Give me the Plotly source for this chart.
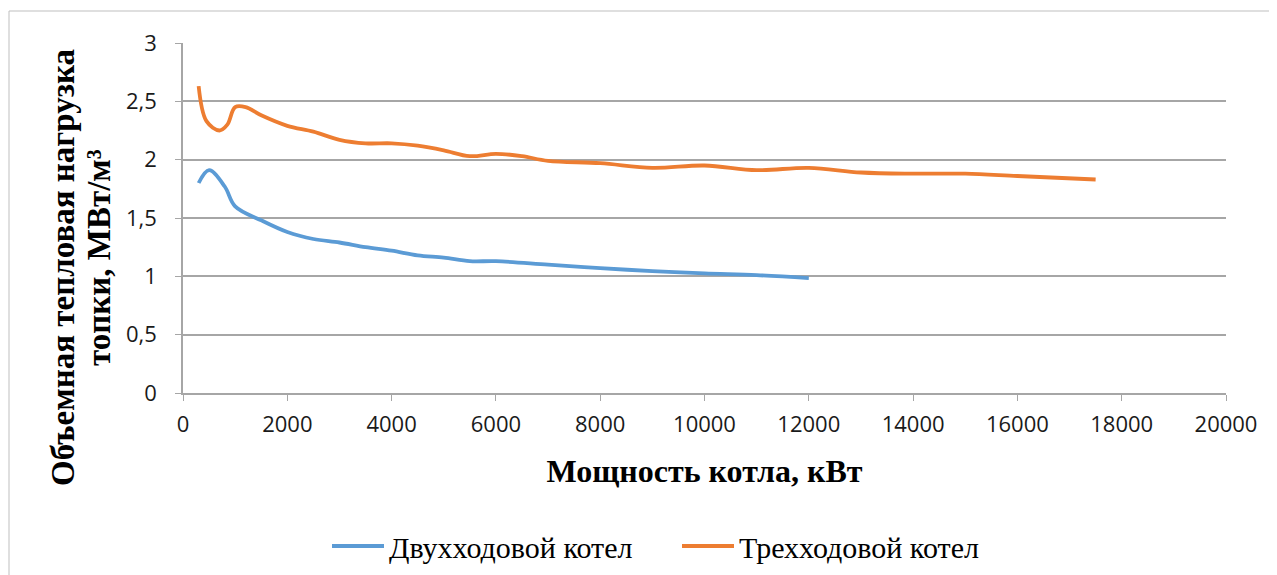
import plotly.graph_objects as go

# Data
two_pass_x = [300, 500, 800, 1000, 1500, 2000, 2500, 3000, 3500, 4000, 4500, 5000,
              5500, 6000, 7000, 8000, 9000, 10000, 11000, 12000]
two_pass_y = [1.80, 1.91, 1.77, 1.60, 1.48, 1.38, 1.32, 1.29, 1.25, 1.22, 1.18, 1.16,
              1.13, 1.13, 1.10, 1.07, 1.045, 1.025, 1.01, 0.985]

three_pass_x = [300, 450, 700, 850, 1000, 1200, 1500, 2000, 2500, 3000, 3500, 4000,
                4500, 5000, 5500, 6000, 6500, 7000, 8000, 9000, 10000, 11000, 12000,
                13000, 14000, 15000, 16000, 17500]
three_pass_y = [2.63, 2.33, 2.25, 2.30, 2.45, 2.45, 2.38, 2.29, 2.24, 2.17, 2.14, 2.14,
                2.12, 2.08, 2.03, 2.05, 2.03, 1.99, 1.97, 1.93, 1.95, 1.91, 1.93,
                1.89, 1.88, 1.88, 1.86, 1.83]

series_names = ["Двухходовой котел", "Трехходовой котел"]
x_ticks = list(range(0, 20001, 2000))
y_ticks = [0, 0.5, 1, 1.5, 2, 2.5, 3]
y_tick_text = ["0", "0,5", "1", "1,5", "2", "2,5", "3"]
y_title_lines = ["<b>Объемная тепловая нагрузка</b>", "<b>топки, МВт/м³</b>"]
x_title = "<b>Мощность котла, кВт</b>"

fig = go.Figure()
fig.add_trace(go.Scatter(x=two_pass_x, y=two_pass_y, mode="lines", name=series_names[0],
                         line=dict(color="#5B9BD5", width=3.8, shape="spline", smoothing=1.0)))
fig.add_trace(go.Scatter(x=three_pass_x, y=three_pass_y, mode="lines", name=series_names[1],
                         line=dict(color="#ED7D31", width=3.8, shape="spline", smoothing=1.0)))

W, H = 1277, 575
OFF = 8  # page body margin of the browser
L, T = 175, 35
pw, ph = 1043, 350
R = W - L - pw
B = H - T - ph

def px_x(p):
    return (p - OFF - L) / pw

def px_y(p):
    return (H - B - (p - OFF)) / ph

fig.add_shape(type="rect", xref="paper", yref="paper",
              x0=px_x(9), x1=px_x(1300), y0=px_y(600), y1=px_y(11),
              line=dict(color="#BFBFBF", width=1), fillcolor="rgba(0,0,0,0)", layer="below")

serif = "Liberation Serif, Times New Roman, serif"
fig.add_annotation(text=y_title_lines[0], xref="paper", yref="paper",
                   x=px_x(63), y=px_y(268), xanchor="center", yanchor="middle",
                   textangle=-90, showarrow=False,
                   font=dict(family=serif, size=33, color="black"))
fig.add_annotation(text=y_title_lines[1], xref="paper", yref="paper",
                   x=px_x(99), y=px_y(258), xanchor="center", yanchor="middle",
                   textangle=-90, showarrow=False,
                   font=dict(family=serif, size=33, color="black"))

tick_font = dict(family="Open Sans, sans-serif", size=22, color="#1a1a1a")

fig.update_layout(
    width=W, height=H,
    margin=dict(l=L, r=R, t=T, b=B, autoexpand=False),
    paper_bgcolor="white", plot_bgcolor="white",
    showlegend=True,
    legend=dict(orientation="h", x=px_x(327), xanchor="left", y=px_y(546), yanchor="middle",
                font=dict(family=serif, size=30, color="black"),
                itemwidth=52, entrywidth=283, entrywidthmode="pixels", tracegroupgap=0),
    xaxis=dict(range=[0, 20000], tickvals=x_ticks, ticktext=[str(v) for v in x_ticks],
               automargin=False,
               showgrid=False, zeroline=False, showline=True, linecolor="#A6A6A6", linewidth=1.5,
               ticks="outside", ticklen=6, tickcolor="#A6A6A6", tickfont=tick_font,
               ticklabelstandoff=5,
               title=dict(text=x_title,
                          font=dict(family=serif, size=32, color="black"), standoff=22)),
    yaxis=dict(range=[0, 3], tickvals=y_ticks, ticktext=y_tick_text,
               automargin=False,
               showgrid=True, gridcolor="#A6A6A6", gridwidth=1.5, zeroline=False,
               showline=True, linecolor="#A6A6A6", linewidth=1.5,
               ticks="outside", ticklen=6, tickcolor="#A6A6A6", tickfont=tick_font,
               ticklabelstandoff=14),
)

fig.write_html("out.html")
